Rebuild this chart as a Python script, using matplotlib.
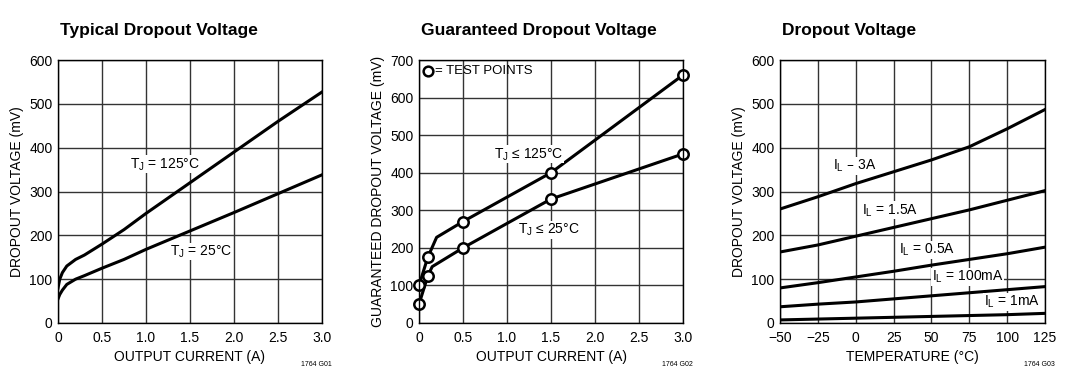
import matplotlib
matplotlib.use("Agg")
import matplotlib.pyplot as plt

plt.rcParams['font.family'] = ['Liberation Sans Narrow', 'Liberation Sans', 'DejaVu Sans']

# Panel 1: typical dropout voltage vs output current
i_typ = [0, 0.02, 0.05, 0.1, 0.2, 0.3, 0.5, 0.75, 1.0, 1.5, 2.0, 2.5, 3.0]
v_125 = [80, 100, 115, 130, 145, 155, 180, 213, 250, 320, 390, 460, 527]
v_25 = [55, 65, 75, 88, 100, 108, 125, 145, 168, 210, 252, 295, 338]

# Panel 2: guaranteed dropout voltage
i_g125 = [0, 0.1, 0.2, 0.5, 1.5, 3.0]
v_g125 = [100, 175, 228, 270, 400, 660]
i_g25 = [0, 0.1, 0.15, 0.5, 1.5, 3.0]
v_g25 = [50, 125, 150, 200, 330, 450]
test_i125 = [0, 0.1, 0.5, 1.5, 3.0]
test_v125 = [100, 175, 270, 400, 660]
test_i25 = [0, 0.1, 0.5, 1.5, 3.0]
test_v25 = [50, 125, 200, 330, 450]

# Panel 3: dropout voltage vs temperature
temps = [-50, -25, 0, 25, 50, 75, 100, 125]
v_3a = [260, 288, 318, 345, 372, 402, 443, 487]
v_1p5a = [162, 178, 198, 218, 238, 258, 280, 302]
v_0p5a = [80, 92, 105, 118, 132, 145, 158, 173]
v_100ma = [37, 43, 48, 55, 62, 69, 76, 83]
v_1ma = [7, 9, 11, 13, 15, 17, 19, 22]

fig = plt.figure(figsize=(10.8, 3.71), dpi=100)
W, H = 1080, 371
boxes = [(58, 60, 264, 263), (419, 60, 264, 263), (780, 60, 265, 263)]
axes = []
for (x, y, w, h) in boxes:
    ax = fig.add_axes([x / W, 1 - (y + h) / H, w / W, h / H])
    ax.grid(True, color='#333333', lw=1.0)
    ax.set_axisbelow(True)
    ax.tick_params(length=0, labelsize=10, pad=4)
    ax.tick_params(axis='x', pad=6)
    for s in ax.spines.values():
        s.set_color('black')
        s.set_linewidth(1.0)
    axes.append(ax)

lw = 2.2
tb = dict(facecolor='white', edgecolor='none', pad=0.5)

ax1, ax2, ax3 = axes
ax1.plot(i_typ, v_125, color='black', lw=lw)
ax1.plot(i_typ, v_25, color='black', lw=lw)
ax1.set_xlim(0, 3)
ax1.set_ylim(0, 600)
ax1.set_xticks([0, 0.5, 1.0, 1.5, 2.0, 2.5, 3.0])
ax1.set_xticklabels(['0', '0.5', '1.0', '1.5', '2.0', '2.5', '3.0'])
ax1.set_yticks(range(0, 601, 100))
ax1.set_xlabel('OUTPUT CURRENT (A)', fontsize=10, labelpad=3)
ax1.set_ylabel('DROPOUT VOLTAGE (mV)', fontsize=10, labelpad=4)
ax1.text(1.21, 362, 'T$_\\mathregular{J}$ = 125°C', fontsize=10, ha='center', va='center', bbox=tb)
ax1.text(1.63, 163, 'T$_\\mathregular{J}$ = 25°C', fontsize=10, ha='center', va='center', bbox=tb)

ax2.plot(i_g125, v_g125, color='black', lw=lw)
ax2.plot(i_g25, v_g25, color='black', lw=lw)
ax2.plot(test_i125, test_v125, 'o', ms=7.5, mfc='white', mec='black', mew=1.8, clip_on=False)
ax2.plot(test_i25, test_v25, 'o', ms=7.5, mfc='white', mec='black', mew=1.8, clip_on=False)
ax2.set_xlim(0, 3)
ax2.set_ylim(0, 700)
ax2.set_xticks([0, 0.5, 1.0, 1.5, 2.0, 2.5, 3.0])
ax2.set_xticklabels(['0', '0.5', '1.0', '1.5', '2.0', '2.5', '3.0'])
ax2.set_yticks(range(0, 701, 100))
ax2.set_xlabel('OUTPUT CURRENT (A)', fontsize=10, labelpad=3)
ax2.set_ylabel('GUARANTEED DROPOUT VOLTAGE (mV)', fontsize=10, labelpad=4)
ax2.plot([0.1], [672], 'o', ms=7, mfc='white', mec='black', mew=1.8)
ax2.text(0.18, 672, '= TEST POINTS', fontsize=9.5, ha='left', va='center')
ax2.text(1.25, 449, 'T$_\\mathregular{J}$ ≤ 125°C', fontsize=10, ha='center', va='center', bbox=tb)
ax2.text(1.47, 248, 'T$_\\mathregular{J}$ ≤ 25°C', fontsize=10, ha='center', va='center', bbox=tb)

for v in [v_3a, v_1p5a, v_0p5a, v_100ma, v_1ma]:
    ax3.plot(temps, v, color='black', lw=lw)
ax3.set_xlim(-50, 125)
ax3.set_ylim(0, 600)
ax3.set_xticks(temps)
ax3.set_xticklabels(['−50', '−25', '0', '25', '50', '75', '100', '125'])
ax3.set_yticks(range(0, 601, 100))
ax3.set_xlabel('TEMPERATURE (°C)', fontsize=10, labelpad=3)
ax3.set_ylabel('DROPOUT VOLTAGE (mV)', fontsize=10, labelpad=4)
ax3.text(-1, 358, 'I$_\\mathregular{L}$ – 3A', fontsize=10, ha='center', va='center', bbox=tb)
ax3.text(23, 257, 'I$_\\mathregular{L}$ = 1.5A', fontsize=10, ha='center', va='center', bbox=tb)
ax3.text(47, 167, 'I$_\\mathregular{L}$ = 0.5A', fontsize=10, ha='center', va='center', bbox=tb)
ax3.text(74, 105, 'I$_\\mathregular{L}$ = 100mA', fontsize=10, ha='center', va='center', bbox=tb)
ax3.text(103, 48, 'I$_\\mathregular{L}$ = 1mA', fontsize=10, ha='center', va='center', bbox=tb)

titles = ['Typical Dropout Voltage', 'Guaranteed Dropout Voltage', 'Dropout Voltage']
codes = ['1764 G01', '1764 G02', '1764 G03']
for (x, y, w, h), t, c in zip(boxes, titles, codes):
    fig.text((x + 2) / W, 1 - 31 / H, t, fontsize=12.5, fontweight='bold', ha='left', va='center')
    fig.text((x + w + 10) / W, 1 - 364 / H, c, fontsize=5, ha='right', va='center')

fig.savefig('out.png', dpi=100)
